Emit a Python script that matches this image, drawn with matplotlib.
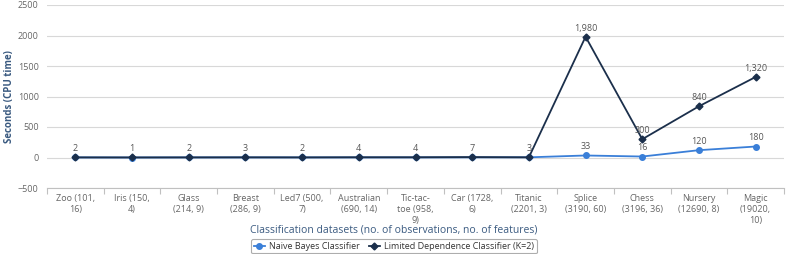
import matplotlib
matplotlib.use("Agg")
import matplotlib.pyplot as plt
from matplotlib.ticker import FixedLocator, NullFormatter

categories = ["Zoo (101,\n16)", "Iris (150,\n4)", "Glass\n(214, 9)", "Breast\n(286, 9)",
              "Led7 (500,\n7)", "Australian\n(690, 14)", "Tic-tac-\ntoe (958,\n9)",
              "Car (1728,\n6)", "Titanic\n(2201, 3)", "Splice\n(3190, 60)",
              "Chess\n(3196, 36)", "Nursery\n(12690, 8)", "Magic\n(19020,\n10)"]
naive_bayes = [1, 0, 1, 1, 1, 1, 1, 2, 3, 33, 16, 120, 180]
limited_dep = [2, 1, 2, 3, 2, 4, 4, 7, 3, 1980, 300, 840, 1320]
y_ticks = [-500, 0, 500, 1000, 1500, 2000, 2500]

nb_color = "#3a7fd8"
ld_color = "#1b2f4b"
title_color = "#3a5a80"
tick_color = "#666666"

plt.rcParams['font.family'] = ['Open Sans', 'DejaVu Sans']

fig = plt.figure(figsize=(7.86, 2.54), dpi=100)
ax = fig.add_axes([47/786, 1-188/254, (784-47)/786, (188-5)/254])

x = list(range(len(categories)))
ax.plot(x, naive_bayes, color=nb_color, lw=1.3, marker='o', ms=4, zorder=3,
        label="Naive Bayes Classifier")
ax.plot(x, limited_dep, color=ld_color, lw=1.3, marker='D', ms=3.5, zorder=4,
        label="Limited Dependence Classifier (K=2)")

for i, v in enumerate(limited_dep):
    ax.annotate(f"{v:,}", (i, v), xytext=(0, 3), textcoords="offset points",
                ha='center', va='bottom', fontsize=6.5, color="#555555", zorder=5)
for i, v in enumerate(naive_bayes):
    if abs(limited_dep[i] - v) > 50:
        ax.annotate(f"{v:,}", (i, v), xytext=(0, 3), textcoords="offset points",
                    ha='center', va='bottom', fontsize=6.5, color="#555555", zorder=5)

ax.set_xlim(-0.5, len(categories) - 0.5)
ax.set_ylim(-500, 2500)
ax.set_yticks(y_ticks)
ax.yaxis.grid(True, color="#d8d8d8", lw=0.8)
ax.set_axisbelow(True)
ax.tick_params(axis='y', length=0, labelsize=6.5, labelcolor=tick_color, pad=6)

ax.set_xticks(x)
ax.set_xticklabels(categories, fontsize=6.5, color=tick_color, linespacing=1.3)
ax.tick_params(axis='x', which='major', length=0, pad=4)
ax.xaxis.set_minor_locator(FixedLocator([i + 0.5 for i in range(-1, len(categories))]))
ax.xaxis.set_minor_formatter(NullFormatter())
ax.tick_params(axis='x', which='minor', length=4, color="#c0c0c0", width=0.8)

for s in ['top', 'right', 'left']:
    ax.spines[s].set_visible(False)
ax.spines['bottom'].set_color("#c0c0c0")
ax.spines['bottom'].set_linewidth(0.8)

ax.set_ylabel("Seconds (CPU time)", fontsize=7, color=title_color, fontweight='bold')
ax.yaxis.set_label_coords((15 - 47) / 737, 0.5)
fig.text(394/786, 1-230/254, "Classification datasets (no. of observations, no. of features)",
         ha='center', va='center', fontsize=7.5, color=title_color)

leg = fig.legend(loc='upper center', bbox_to_anchor=(394/786, 1-239/254), ncol=2,
                 fontsize=6.5, frameon=True, handlelength=1.2, columnspacing=1.0,
                 handletextpad=0.5, borderpad=0.3, borderaxespad=0.0)
leg.get_frame().set_edgecolor("#999999")
leg.get_frame().set_linewidth(0.8)
for t in leg.get_texts():
    t.set_color("#333333")

fig.savefig("out.png", dpi=100)
